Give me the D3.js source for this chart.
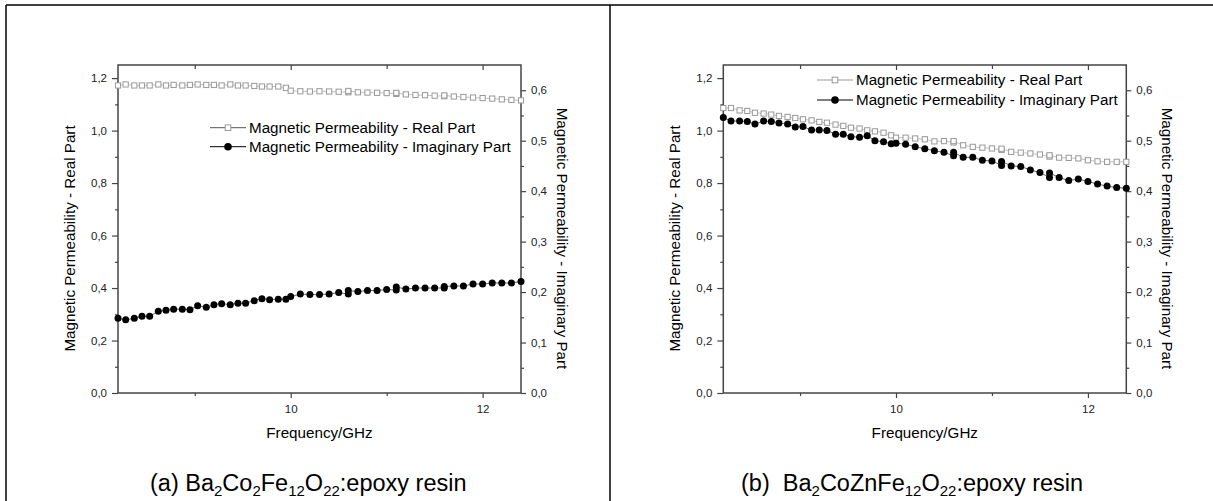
<html>
  <meta charset="utf-8" />
  <script src="https://d3js.org/d3.v7.min.js"></script>
  <style>
    body { margin: 0; background: #fff; }
    text { font-family: "Liberation Sans", Arial, sans-serif; }
  </style>
  <body>
    <svg width="1213" height="501" id="svg_fig"></svg>
  </body>
  <script>
    // frequency grid in GHz (two sweeps joined at 10 GHz, some repeated points)
    const freq = [8.20, 8.28, 8.37, 8.45, 8.53, 8.62, 8.70, 8.78, 8.87, 8.95,
      9.03, 9.12, 9.20, 9.28, 9.37, 9.45, 9.53, 9.62, 9.70, 9.78, 9.87, 9.95,
      10.0, 10.1, 10.2, 10.3, 10.4, 10.5, 10.6, 10.6, 10.7, 10.8, 10.9, 11.0,
      11.1, 11.1, 11.2, 11.3, 11.4, 11.5, 11.6, 11.6, 11.7, 11.8, 11.9, 12.0,
      12.1, 12.2, 12.3, 12.4];

    // (a) Ba2Co2Fe12O22
    const realA = [1.172, 1.176, 1.172, 1.172, 1.172, 1.176, 1.172, 1.174, 1.172, 1.174,
      1.176, 1.174, 1.174, 1.172, 1.176, 1.172, 1.172, 1.170, 1.168, 1.168, 1.168, 1.163,
      1.152, 1.150, 1.149, 1.150, 1.149, 1.148, 1.146, 1.151, 1.146, 1.145, 1.144, 1.143,
      1.140, 1.144, 1.138, 1.136, 1.135, 1.133, 1.131, 1.134, 1.130, 1.128, 1.126, 1.124,
      1.122, 1.119, 1.117, 1.115];
    const imagA = [0.148, 0.145, 0.148, 0.152, 0.152, 0.162, 0.164, 0.166, 0.166, 0.165,
      0.173, 0.170, 0.175, 0.177, 0.175, 0.178, 0.178, 0.183, 0.187, 0.185, 0.186, 0.186,
      0.191, 0.196, 0.195, 0.195, 0.196, 0.199, 0.196, 0.203, 0.201, 0.203, 0.203, 0.205,
      0.204, 0.210, 0.206, 0.208, 0.208, 0.208, 0.208, 0.211, 0.212, 0.212, 0.216, 0.216,
      0.218, 0.218, 0.218, 0.221];

    // (b) Ba2CoZnFe12O22
    const realB = [1.086, 1.086, 1.077, 1.075, 1.068, 1.065, 1.061, 1.056, 1.052, 1.048,
      1.043, 1.039, 1.033, 1.030, 1.023, 1.018, 1.011, 1.008, 1.001, 0.997, 0.992, 0.982,
      0.973, 0.973, 0.970, 0.967, 0.959, 0.960, 0.955, 0.960, 0.944, 0.938, 0.935, 0.932,
      0.926, 0.931, 0.919, 0.916, 0.913, 0.909, 0.901, 0.906, 0.897, 0.896, 0.894, 0.887,
      0.883, 0.881, 0.881, 0.881];
    const imagB = [0.546, 0.539, 0.539, 0.538, 0.533, 0.539, 0.538, 0.535, 0.533, 0.527,
      0.528, 0.521, 0.521, 0.520, 0.513, 0.513, 0.508, 0.507, 0.510, 0.500, 0.498, 0.494,
      0.495, 0.493, 0.488, 0.484, 0.480, 0.477, 0.470, 0.477, 0.467, 0.467, 0.461, 0.460,
      0.451, 0.459, 0.450, 0.449, 0.442, 0.437, 0.427, 0.436, 0.427, 0.421, 0.424, 0.419,
      0.414, 0.410, 0.407, 0.406];

    const leftTicks = [0, 0.2, 0.4, 0.6, 0.8, 1.0, 1.2];
    const leftMinor = [0.1, 0.3, 0.5, 0.7, 0.9, 1.1];
    const rightTicks = [0, 0.1, 0.2, 0.3, 0.4, 0.5, 0.6];
    const rightMinor = [0.05, 0.15, 0.25, 0.35, 0.45, 0.55];
    const xTicks = [10, 12];
    const xMinor = [9, 11];

    const legendLabels = [
      "Magnetic Permeability - Real Part",
      "Magnetic Permeability - Imaginary Part",
    ];
    const captionA = [["(a) Ba", 0], ["2", 1], ["Co", 0], ["2", 1], ["Fe", 0], ["12", 1],
      ["O", 0], ["22", 1], [":epoxy resin", 0]];
    const captionB = [["(b)  Ba", 0], ["2", 1], ["CoZnFe", 0], ["12", 1],
      ["O", 0], ["22", 1], [":epoxy resin", 0]];

    const svg = d3.select("svg");
    const comma = d3
      .formatLocale({ decimal: ",", thousands: ".", grouping: [3], currency: ["", ""] })
      .format(".1f");

    // outer table lines
    svg.append("line").attr("x1", 6).attr("y1", 5).attr("x2", 1213).attr("y2", 5)
      .attr("stroke", "#000").attr("stroke-width", 1.5);
    [6, 610].forEach((lx) => {
      svg.append("line").attr("x1", lx).attr("y1", 5).attr("x2", lx).attr("y2", 501)
        .attr("stroke", "#000").attr("stroke-width", 1.5);
    });

    function styleAxis(sel) {
      sel.attr("font-family", null).attr("font-size", null);
      sel.select(".domain").remove();
      sel.selectAll(".tick line").attr("stroke", "#444").attr("stroke-width", 1.2);
      sel.selectAll(".tick text").attr("fill", "#222").style("font-size", "11.5px");
    }

    function panel(ox, real, imag, caption, leg, realLegColor) {
      const width = 403;
      const height = 328;

      const x = d3.scaleLinear().domain([8.2, 12.4]).range([0, width]);
      const yL = d3.scaleLinear().domain([0, 1.25]).range([height, 0]);
      const yR = d3.scaleLinear().domain([0, 0.65]).range([height, 0]);

      const g = svg.append("g").attr("transform", `translate(${ox},65)`);

      // axes
      g.append("g").call(d3.axisLeft(yL).tickValues(leftTicks).tickSize(6).tickPadding(5).tickFormat(comma)).call(styleAxis);
      g.append("g").call(d3.axisLeft(yL).tickValues(leftMinor).tickSize(3).tickFormat("")).call(styleAxis);
      g.append("g").attr("transform", `translate(${width},0)`)
        .call(d3.axisRight(yR).tickValues(rightTicks).tickSize(5).tickPadding(5).tickFormat(comma)).call(styleAxis);
      g.append("g").attr("transform", `translate(${width},0)`)
        .call(d3.axisRight(yR).tickValues(rightMinor).tickSize(3).tickFormat("")).call(styleAxis);
      g.append("g").attr("transform", `translate(0,${height})`)
        .call(d3.axisBottom(x).tickValues(xTicks).tickSize(5).tickPadding(7).tickFormat(d3.format("d"))).call(styleAxis);
      g.append("g").attr("transform", `translate(0,${height})`)
        .call(d3.axisBottom(x).tickValues(xMinor).tickSize(3).tickFormat("")).call(styleAxis);
      g.append("g").call(d3.axisTop(x).tickValues(xTicks).tickSize(-5).tickFormat("")).call(styleAxis);
      g.append("g").call(d3.axisTop(x).tickValues(xMinor).tickSize(-4).tickFormat("")).call(styleAxis);

      g.append("rect").attr("width", width).attr("height", height)
        .attr("fill", "none").attr("stroke", "#444").attr("stroke-width", 1.5);

      const realPts = freq.map((f, i) => [f, real[i]]);
      const imagPts = freq.map((f, i) => [f, imag[i]]);

      g.append("path").datum(realPts)
        .attr("d", d3.line().x((d) => x(d[0])).y((d) => yL(d[1])))
        .attr("fill", "none").attr("stroke", "#999").attr("stroke-width", 0.6);
      g.append("path").datum(imagPts)
        .attr("d", d3.line().x((d) => x(d[0])).y((d) => yR(d[1])))
        .attr("fill", "none").attr("stroke", "#000").attr("stroke-width", 0.6);

      g.selectAll(".sq").data(realPts).enter().append("rect")
        .attr("x", (d) => x(d[0]) - 2.6).attr("y", (d) => yL(d[1]) - 2.6)
        .attr("width", 5.2).attr("height", 5.2)
        .attr("fill", "#fff").attr("stroke", "#999").attr("stroke-width", 1);
      g.selectAll(".dot").data(imagPts).enter().append("circle")
        .attr("cx", (d) => x(d[0])).attr("cy", (d) => yR(d[1])).attr("r", 3.5)
        .attr("fill", "#000");

      // axis titles
      g.append("text")
        .attr("transform", `translate(-43,${173.5}) rotate(-90)`)
        .attr("text-anchor", "middle").style("font-size", "15.2px")
        .text(legendLabels[0]);
      g.append("text")
        .attr("transform", `translate(${width + 36},${173.5}) rotate(90)`)
        .attr("text-anchor", "middle").style("font-size", "15.2px")
        .text(legendLabels[1]);
      g.append("text")
        .attr("x", width / 2).attr("y", 372.5)
        .attr("text-anchor", "middle").style("font-size", "15.2px")
        .text("Frequency/GHz");

      // legend
      const lg = svg.append("g").attr("transform", `translate(${leg.x},${leg.y})`);
      [0, 1].forEach((k) => {
        const row = lg.append("g").attr("transform", `translate(0,${k * leg.dy})`);
        row.append("line").attr("x1", 0).attr("x2", 36)
          .attr("stroke", k ? "#000" : realLegColor).attr("stroke-width", 1);
        if (k) {
          row.append("circle").attr("cx", 18).attr("r", 3.8).attr("fill", "#000");
        } else {
          row.append("rect").attr("x", 15.2).attr("y", -2.8).attr("width", 5.6).attr("height", 5.6)
            .attr("fill", "#fff").attr("stroke", "#999");
        }
        row.append("text").attr("x", 39).attr("dy", "0.35em")
          .style("font-size", "15.2px").text(legendLabels[k]);
      });

      // caption with subscripts
      const cap = svg.append("text").attr("x", caption.x).attr("y", 491)
        .style("font-size", "23.5px").style("white-space", "pre");
      let shifted = false;
      caption.parts.forEach(([t, sub]) => {
        const ts = cap.append("tspan").text(t);
        if (sub && !shifted) { ts.attr("dy", 5); shifted = true; }
        if (!sub && shifted) { ts.attr("dy", -5); shifted = false; }
        if (sub) ts.style("font-size", "15px");
      });
    }

    panel(118, realA, imagA, { x: 150, parts: captionA }, { x: 210, y: 127.7, dy: 19 }, "#555");
    panel(723.3, realB, imagB, { x: 741, parts: captionB }, { x: 817, y: 80, dy: 20 }, "#999");
  </script>
</html>
